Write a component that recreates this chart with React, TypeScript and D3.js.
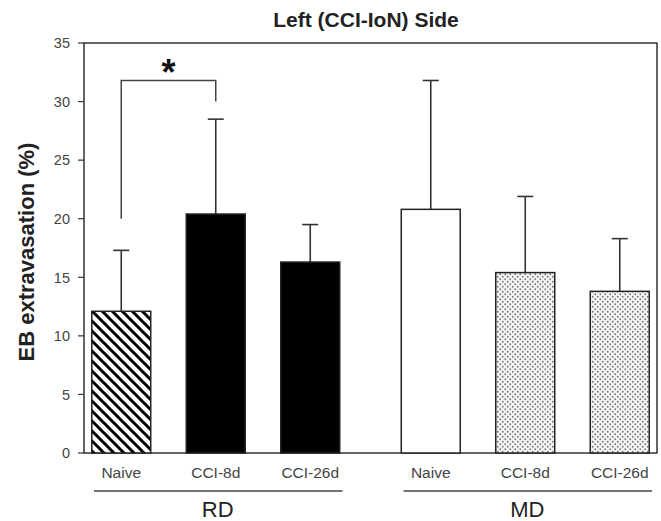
import * as d3 from "d3";

const groups = ["RD", "MD"];
const conditions = ["Naive", "CCI-8d", "CCI-26d"];
// mean and upper SEM end, per group, per condition
const rdMeans = [12.1, 20.4, 16.3];
const rdErrTops = [17.3, 28.5, 19.5];
const mdMeans = [20.8, 15.4, 13.8];
const mdErrTops = [31.8, 21.9, 18.3];
const fills = [
  ["url(#stripes)", "#000", "#000"],
  ["#fff", "url(#dots)", "url(#dots)"],
];
const yTicks = [0, 5, 10, 15, 20, 25, 30, 35];
// significance bracket: Naive vs CCI-8d in RD
const bracketTop = 31.8;
const bracketLegs = [20.0, 30.0];

const width = 661;
const height = 521;
const margin = { top: 43, right: 4, bottom: 68, left: 84 };

const App = () => {
  const innerW = width - margin.left - margin.right;
  const innerH = height - margin.top - margin.bottom;

  const y = d3.scaleLinear().domain([0, 35]).range([innerH, 0]);
  const xGroup = d3
    .scaleBand()
    .domain(groups)
    .range([-10, innerW + 10])
    .paddingInner(0.084)
    .paddingOuter(0);
  const xCond = d3
    .scaleBand()
    .domain(conditions)
    .range([0, xGroup.bandwidth()])
    .paddingInner(0.376)
    .paddingOuter(0.188);

  const bars = groups.flatMap((g, gi) => {
    const means = gi === 0 ? rdMeans : mdMeans;
    const tops = gi === 0 ? rdErrTops : mdErrTops;
    return conditions.map((c, ci) => ({
      key: g + c,
      x: xGroup(g)! + xCond(c)!,
      mean: means[ci],
      errTop: tops[ci],
      fill: fills[gi][ci],
      label: c,
    }));
  });

  const bw = xCond.bandwidth();
  const b0 = bars[0];
  const b1 = bars[1];

  return (
    <svg
      width={width}
      height={height}
      style={{ position: "absolute", left: 0, top: 0, background: "#fff" }}
      fontFamily="'Liberation Sans', Arial, sans-serif"
    >
      <defs>
        <pattern id="stripes" patternUnits="userSpaceOnUse" width={10} height={10}>
          <rect width={10} height={10} fill="#fff" />
          <path d="M-2,-2 L12,12 M-2,8 L2,12 M8,-2 L12,2" stroke="#000" strokeWidth={3} />
        </pattern>
        <pattern id="dots" patternUnits="userSpaceOnUse" width={5} height={5}>
          <rect width={5} height={5} fill="#f4f4f4" />
          <circle cx={1.25} cy={1.25} r={0.9} fill="#777" />
          <circle cx={3.75} cy={3.75} r={0.9} fill="#777" />
        </pattern>
      </defs>

      <text
        x={366}
        y={27}
        textAnchor="middle"
        fontSize={21}
        fontWeight="bold"
        fill="#222"
      >
        Left (CCI-IoN) Side
      </text>

      <g transform={`translate(${margin.left},${margin.top})`}>
        {/* frame */}
        <rect
          x={0}
          y={0}
          width={innerW}
          height={innerH}
          fill="none"
          stroke="#333"
          strokeWidth={1.5}
        />

        {/* y axis ticks */}
        {yTicks.map((t) => (
          <g key={t} transform={`translate(0,${y(t)})`}>
            <line x1={-6} x2={0} stroke="#333" strokeWidth={1.2} />
            <text
              x={-14}
              dy="0.36em"
              textAnchor="end"
              fontSize={14.5}
              fill="#444"
            >
              {t}
            </text>
          </g>
        ))}

        {/* error bars */}
        {bars.map((b) => (
          <g key={b.key + "err"} stroke="#333" strokeWidth={1.6}>
            <line x1={b.x + bw / 2} x2={b.x + bw / 2} y1={y(b.mean)} y2={y(b.errTop)} />
            <line x1={b.x + bw / 2 - 8} x2={b.x + bw / 2 + 8} y1={y(b.errTop)} y2={y(b.errTop)} />
          </g>
        ))}

        {/* bars */}
        {bars.map((b) => (
          <rect
            key={b.key}
            x={b.x}
            y={y(b.mean)}
            width={bw}
            height={y(0) - y(b.mean)}
            fill={b.fill}
            stroke="#222"
            strokeWidth={1.5}
          />
        ))}

        {/* significance bracket */}
        <path
          d={`M${b0.x + bw / 2},${y(bracketLegs[0])} V${y(bracketTop)} H${b1.x + bw / 2} V${y(bracketLegs[1])}`}
          fill="none"
          stroke="#444"
          strokeWidth={1.5}
        />
        <text
          x={(b0.x + b1.x + bw) / 2}
          y={y(bracketTop) + 5}
          textAnchor="middle"
          fontSize={36}
          fontWeight="bold"
          fill="#111"
        >
          *
        </text>

        {/* x labels */}
        {bars.map((b) => (
          <text
            key={b.key + "lbl"}
            x={b.x + bw / 2}
            y={innerH + 25}
            textAnchor="middle"
            fontSize={15.5}
            fill="#444"
          >
            {b.label}
          </text>
        ))}

        {/* group labels */}
        {groups.map((g) => (
          <g key={g}>
            <line
              x1={xGroup(g)! + 20}
              x2={xGroup(g)! + xGroup.bandwidth() - 15}
              y1={innerH + 38}
              y2={innerH + 38}
              stroke="#444"
              strokeWidth={1.3}
            />
            <text
              x={xGroup(g)! + xGroup.bandwidth() / 2 + 2}
              y={innerH + 64}
              textAnchor="middle"
              fontSize={22}
              fill="#222"
            >
              {g}
            </text>
          </g>
        ))}
      </g>

      <text
        transform={`translate(34,${margin.top + innerH / 2 + 4}) rotate(-90)`}
        textAnchor="middle"
        fontSize={22}
        fontWeight="bold"
        fill="#222"
      >
        EB extravasation (%)
      </text>
    </svg>
  );
};

export default App;
